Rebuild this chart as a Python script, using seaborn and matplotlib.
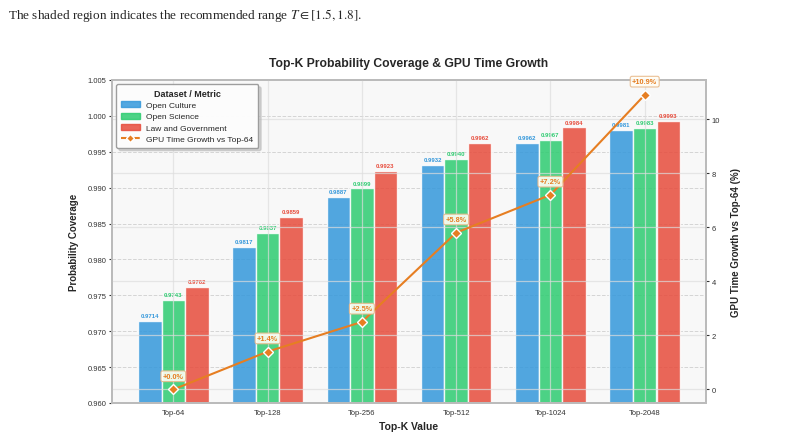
import numpy as np
import pandas as pd
import matplotlib.pyplot as plt
import seaborn as sns
from matplotlib.lines import Line2D

# values
top_k = ["Top-64", "Top-128", "Top-256", "Top-512", "Top-1024", "Top-2048"]
open_culture = [0.9714, 0.9817, 0.9887, 0.9932, 0.9962, 0.9981]
open_science = [0.9743, 0.9837, 0.9899, 0.9940, 0.9967, 0.9983]
law_government = [0.9762, 0.9859, 0.9923, 0.9962, 0.9984, 0.9993]
gpu_growth = [0.0, 1.4, 2.5, 5.8, 7.2, 10.9]

datasets = ["Open Culture", "Open Science", "Law and Government"]
colors = ["#3498db", "#2ecc71", "#e74c3c"]
orange = "#e67e22"

df = pd.DataFrame({
    "topk": top_k * 3,
    "dataset": np.repeat(datasets, len(top_k)),
    "coverage": open_culture + open_science + law_government,
})

sns.set_style("whitegrid")
plt.rcParams["font.family"] = ["Liberation Sans", "DejaVu Sans"]
plt.rcParams["mathtext.fontset"] = "stix"

fig = plt.figure(figsize=(7.9, 4.39), dpi=100)
ax = fig.add_axes([112 / 790, 1 - 404 / 439, 594 / 790, 323 / 439])
ax.set_facecolor("#f8f8f8")

sns.barplot(data=df, x="topk", y="coverage", hue="dataset", palette=colors,
            saturation=1, width=0.75, edgecolor="white", linewidth=1,
            alpha=0.85, ax=ax, legend=False, zorder=2)

# value labels above bars
for cont, col in zip(ax.containers, colors):
    for bar in cont:
        h = bar.get_height()
        ax.text(bar.get_x() + bar.get_width() / 2, h + 0.0004, f"{h:.4f}",
                ha="center", va="bottom", fontsize=4.3, fontweight="bold",
                color=col, zorder=5)

ax.set_ylim(0.960, 1.005)
ax.set_xlim(-0.65, 5.65)
ax.set_yticks(np.arange(0.960, 1.0051, 0.005))
ax.set_yticklabels([f"{v:.3f}" for v in np.arange(0.960, 1.0051, 0.005)])
ax.grid(axis="y", linestyle="--", color="#cccccc", linewidth=0.7, alpha=0.8)
ax.grid(axis="x", visible=False)
ax.tick_params(axis="both", labelsize=5.5, colors="#333333", length=2, pad=2)
ax.set_xlabel("Top-K Value", fontsize=7.5, fontweight="bold", labelpad=4)
ax.set_ylabel("Probability Coverage", fontsize=7, fontweight="bold", labelpad=6)
ax.set_title("Top-K Probability Coverage & GPU Time Growth", fontsize=8.7,
             fontweight="bold", pad=10)
for s in ax.spines.values():
    s.set_color("#bbbbbb")
    s.set_linewidth(1.3)

# GPU growth on the secondary axis
ax2 = ax.twinx()
ax2.patch.set_visible(False)
ax2.xaxis.set_visible(True)
xs = np.arange(len(top_k))
sns.lineplot(x=xs, y=gpu_growth, ax=ax2, color=orange, linewidth=1.5,
             marker="D", markersize=5, markerfacecolor=orange,
             markeredgecolor="white", markeredgewidth=1, zorder=4)
for x, v in zip(xs, gpu_growth):
    ax2.annotate(f"+{v:.1f}%", (x, v), xytext=(0, 7), textcoords="offset points",
                 ha="center", va="bottom", fontsize=5.3, fontweight="bold",
                 color=orange,
                 bbox=dict(boxstyle="round,pad=0.25", fc="#fffdf5", ec="#e8b98a",
                           lw=0.8, alpha=0.9), zorder=6)
ax2.set_xlim(-0.65, 5.65)
ax2.set_xticks(xs)
ax2.tick_params(axis="x", labelbottom=False, bottom=False, length=0)
ax2.set_ylim(-0.5, 11.45)
ax2.set_yticks([0, 2, 4, 6, 8, 10])
ax2.grid(True, color="#dddddd", linewidth=0.9, alpha=0.7)
ax2.tick_params(axis="y", labelsize=5.5, colors="#333333", length=2, pad=2)
ax2.set_ylabel("GPU Time Growth vs Top-64 (%)", fontsize=7, fontweight="bold",
               labelpad=8)
for s in ax2.spines.values():
    s.set_color("#bbbbbb")
    s.set_linewidth(1.3)

handles = [plt.Rectangle((0, 0), 1, 1, color=c, alpha=0.85) for c in colors]
handles.append(Line2D([0], [0], color=orange, linestyle="--", linewidth=1.5,
                      marker="D", markersize=4, markerfacecolor=orange,
                      markeredgecolor="white"))
leg = ax2.legend(handles, datasets + ["GPU Time Growth vs Top-64"],
                 title="Dataset / Metric", loc="upper left", fontsize=6,
                 title_fontproperties={"weight": "bold", "size": 6.5},
                 frameon=True, shadow={"color": "#bbbbbb", "alpha": 0.6},
                 fancybox=True, framealpha=0.95,
                 borderpad=0.6, handlelength=2.2, labelspacing=0.4)
leg.get_frame().set_edgecolor("#999999")
leg.set_zorder(10)

fig.text(0.01, 0.965, r"The shaded region indicates the recommended range $T \in [1.5, 1.8]$.",
         fontsize=9.5, family="Liberation Serif", va="center", ha="left")

fig.savefig("out.png", dpi=100)
